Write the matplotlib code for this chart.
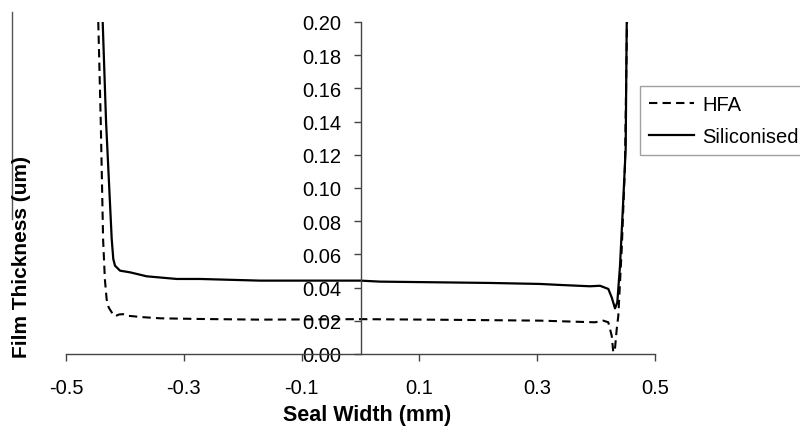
import matplotlib
matplotlib.use("Agg")
import matplotlib.pyplot as plt
from matplotlib.lines import Line2D

plt.rcParams['font.family'] = ['Liberation Sans', 'DejaVu Sans']

# HFA (dashed) film thickness profile
hfa_x = [-0.4452, -0.441, -0.437, -0.434, -0.431, -0.4275, -0.4224, -0.4168, -0.410,
         -0.403, -0.397, -0.370, -0.340, -0.2725, -0.1706, 0.0, 0.15, 0.3047,
         0.398, 0.4122, 0.4207, 0.4265, 0.4292, 0.432, 0.435, 0.4377, 0.4435, 0.449, 0.4525]
hfa_y = [0.200, 0.140, 0.069, 0.045, 0.033, 0.028, 0.0251, 0.0227, 0.0238,
         0.0240, 0.0231, 0.0222, 0.0215, 0.0211, 0.0207, 0.0210, 0.0206, 0.0201,
         0.0191, 0.0201, 0.0191, 0.0110, 0.0010, 0.0030, 0.0150, 0.0230, 0.0633, 0.1134, 0.200]

# Siliconised (solid) film thickness profile
sil_x = [-0.4377, -0.432, -0.4224, -0.4197, -0.4168, -0.4083, -0.3913, -0.363, -0.312,
         -0.2725, -0.1706, 0.0, 0.033, 0.22, 0.3047, 0.3387, 0.3896, 0.4066, 0.4207,
         0.4265, 0.4321, 0.436, 0.4406, 0.4462, 0.4502, 0.452]
sil_y = [0.200, 0.140, 0.0693, 0.0572, 0.0532, 0.0502, 0.0492, 0.0468, 0.0452,
         0.0452, 0.0442, 0.0442, 0.0436, 0.0428, 0.0422, 0.0416, 0.0408, 0.0411, 0.0392,
         0.0341, 0.0275, 0.0311, 0.0532, 0.0934, 0.1235, 0.200]

series_labels = ['HFA', 'Siliconised']
x_ticks = [-0.5, -0.3, -0.1, 0.1, 0.3, 0.5]
y_ticks = [0.00, 0.02, 0.04, 0.06, 0.08, 0.10, 0.12, 0.14, 0.16, 0.18, 0.20]

fig = plt.figure(figsize=(8.0, 4.31), dpi=100)
ax = fig.add_axes([66/800, 1-355/431, 589/800, 332/431])

ax.plot(hfa_x, hfa_y, color='black', lw=1.5, linestyle=(0, (4, 2.5)), label=series_labels[0])
ax.plot(sil_x, sil_y, color='black', lw=1.6, linestyle='-', label=series_labels[1])

ax.set_xlim(-0.5, 0.5)
ax.set_ylim(0, 0.2)
ax.set_xticks(x_ticks)
ax.set_xticklabels([f"{v:.1f}" for v in x_ticks])
ax.set_yticks(y_ticks)
ax.set_yticklabels([f"{v:.2f}" for v in y_ticks])

axis_col = '#444444'
ax.spines['left'].set_position(('data', 0))
ax.spines['right'].set_visible(False)
ax.spines['top'].set_visible(False)
for s in ['left', 'bottom']:
    ax.spines[s].set_color(axis_col)
    ax.spines[s].set_linewidth(1.0)
ax.tick_params(axis='both', direction='out', length=5, width=1.0, color=axis_col,
               labelsize=14.5, labelcolor='black')
ax.tick_params(axis='y', pad=9)
ax.tick_params(axis='x', pad=12)

fig.text(366.7/800, 1-416/431, 'Seal Width (mm)', ha='center', va='center',
         fontsize=15.5, fontweight='bold')
fig.text(22/800, 1-257/431, 'Film Thickness (um)', ha='center', va='center',
         rotation=90, fontsize=15, fontweight='bold')

# stray vertical line at far left of the original image
fig.add_artist(Line2D([12/800, 12/800], [1-13/431, 1-220/431], color='#555555', lw=1.0,
                      transform=fig.transFigure))

leg = fig.legend(loc='upper left', bbox_to_anchor=(640/800, 1-87/431), fontsize=14.5,
                 frameon=True, fancybox=False, shadow=False, edgecolor='#888888',
                 handlelength=2.25, handletextpad=0.4, borderpad=0.45, labelspacing=0.62,
                 borderaxespad=0)
leg.get_frame().set_linewidth(1.0)

fig.savefig('out.png', dpi=100)
